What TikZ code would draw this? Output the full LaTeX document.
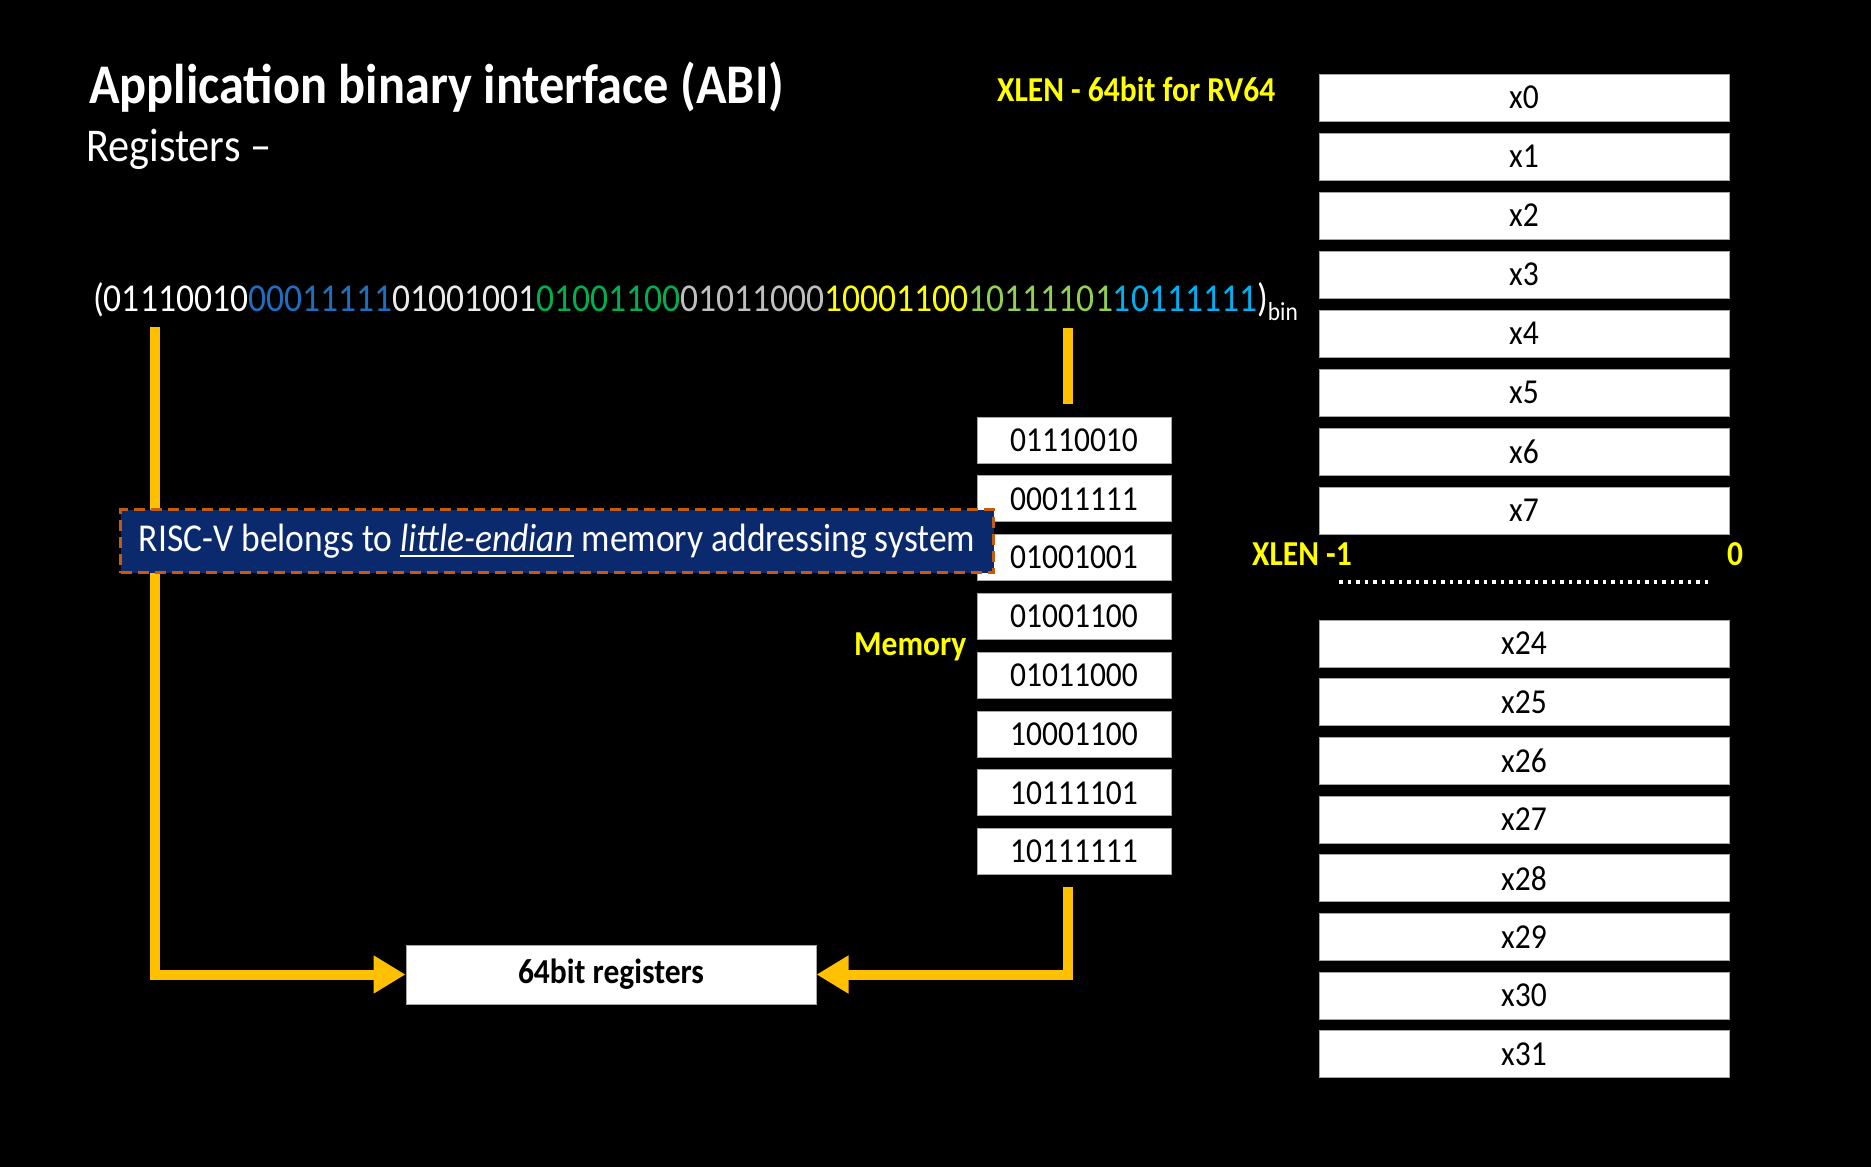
\documentclass[tikz,border=0pt]{standalone}
\usepackage{fontspec}
\setmainfont{Carlito}[FakeStretch=0.9]
\usepackage{tikz}
\usepackage{xcolor}
\usetikzlibrary{arrows.meta,calc,positioning}
\definecolor{AbiOrange}{HTML}{FFC000}
\definecolor{AbiYellow}{HTML}{FFFF00}
\definecolor{NoteNavy}{HTML}{0B2A6E}
\definecolor{NoteEdge}{HTML}{C55A11}
\definecolor{BoxEdge}{HTML}{A6A6A6}
\definecolor{BitBlue}{HTML}{1F6FC0}
\definecolor{BitGreen}{HTML}{00B050}
\definecolor{BitGray}{HTML}{BFBFBF}
\definecolor{BitLime}{HTML}{92D050}
\definecolor{BitCyan}{HTML}{00B0F0}
\newcommand{\abisize}[1]{\fontsize{#1}{#1}\selectfont}
\newcommand{\abiul}[1]{\setbox0\hbox{#1}\rlap{\rule[-6pt]{\wd0}{2.5pt}}\box0\relax}
\tikzset{
  abitext/.style={anchor=base west, inner sep=0pt, text=white},
  abilabel/.style={abitext, text=AbiYellow, font=\abisize{35}\bfseries},
  abireg/.style={draw=BoxEdge, line width=1pt, fill=white, minimum width=410pt, minimum height=47pt, inner sep=0pt, text=black, font=\abisize{35}},
  abimem/.style={abireg, minimum width=194pt, minimum height=46pt, font=\abisize{35}},
  abiregbox/.style={abireg, minimum width=410pt, minimum height=59pt, font=\abisize{35}\bfseries},
  abinote/.style={draw=NoteEdge, fill=NoteNavy, line width=3.5pt, dash pattern=on 11pt off 6pt, minimum width=873pt, minimum height=63pt, inner sep=0pt, text=white, font=\abisize{39.5}},
  abiarrow/.style={-{Triangle[length=32pt,width=36pt]}, line width=10pt, draw=AbiOrange},
  abistub/.style={line width=10pt, draw=AbiOrange},
  abidots/.style={white, line width=3.5pt, dash pattern=on 3.5pt off 5pt}
}

\begin{document}
\begin{tikzpicture}[x=1pt,y=-1pt]
  \fill[black] (0,0) rectangle (1871,1167);
  \useasboundingbox (0,0) rectangle (1871,1167);

  % heading
  \node[abitext, font=\abisize{56}\bfseries] (title) at (89,103) {Application binary interface (ABI)};
  \node[abitext, font=\abisize{47}] (sub) at (86,161) {Registers --};
  \node[abilabel] (xlen) at (997,101) {XLEN - 64bit for RV64};

  % the 64 bit value
  \node[abitext, font=\abisize{39.5}] (value) at (93,311) {(01110010\textcolor{BitBlue}{00011111}\textcolor{white!92!black}{01001001}\textcolor{BitGreen}{01001100}\textcolor{BitGray}{01011000}\textcolor{AbiYellow}{10001100}\textcolor{BitLime}{10111101}\textcolor{BitCyan}{10111111})\raisebox{-9pt}{\abisize{26}bin}};

  % register file
  \node[abireg] (r0) at (1524,97.5) {x0};
  \node[abireg, below=11pt of r0] (r1) {x1};
  \node[abireg, below=11pt of r1] (r2) {x2};
  \node[abireg, below=11pt of r2] (r3) {x3};
  \node[abireg, below=11pt of r3] (r4) {x4};
  \node[abireg, below=11pt of r4] (r5) {x5};
  \node[abireg, below=11pt of r5] (r6) {x6};
  \node[abireg, below=11pt of r6] (r7) {x7};
  \node[abilabel] (msb) at (1252,565) {XLEN -1};
  \node[abilabel] (lsb) at (1727,565) {0};
  \coordinate (dotl) at (1339,582);
  \coordinate (dotr) at (1710,582);
  \draw[abidots] (dotl) -- (dotr);
  \node[abireg] (r24) at (1524,643.5) {x24};
  \node[abireg, below=10.7pt of r24] (r25) {x25};
  \node[abireg, below=10.7pt of r25] (r26) {x26};
  \node[abireg, below=10.7pt of r26] (r27) {x27};
  \node[abireg, below=10.7pt of r27] (r28) {x28};
  \node[abireg, below=10.7pt of r28] (r29) {x29};
  \node[abireg, below=10.7pt of r29] (r30) {x30};
  \node[abireg, below=10.7pt of r30] (r31) {x31};

  % memory bytes
  \node[abimem] (m0) at (1074,440) {01110010};
  \node[abimem, below=11.8pt of m0] (m1) {00011111};
  \node[abimem, below=11.8pt of m1] (m2) {01001001};
  \node[abimem, below=11.8pt of m2] (m3) {01001100};
  \node[abimem, below=11.8pt of m3] (m4) {01011000};
  \node[abimem, below=11.8pt of m4] (m5) {10001100};
  \node[abimem, below=11.8pt of m5] (m6) {10111101};
  \node[abimem, below=11.8pt of m6] (m7) {10111111};
  \node[abilabel] (mem) at (854,655) {Memory};

  % loading into the register
  \node[abiregbox] (regbox) at (611,974.5) {64bit registers};
  \coordinate (ltop) at (155,327);
  \coordinate (rtop) at (1068,328);
  \coordinate (rmid) at (1068,404);
  \coordinate (rbot) at (1068,887);
  \draw[abistub] (rtop) -- (rmid);
  \draw[abiarrow] (ltop) |- (regbox.west);
  \draw[abiarrow] (rbot) |- (regbox.east);

  \node[abinote] (note) at (557,541) {RISC-V belongs to \abiul{\textit{little-endian}} memory addressing system};
\end{tikzpicture}
\end{document}
